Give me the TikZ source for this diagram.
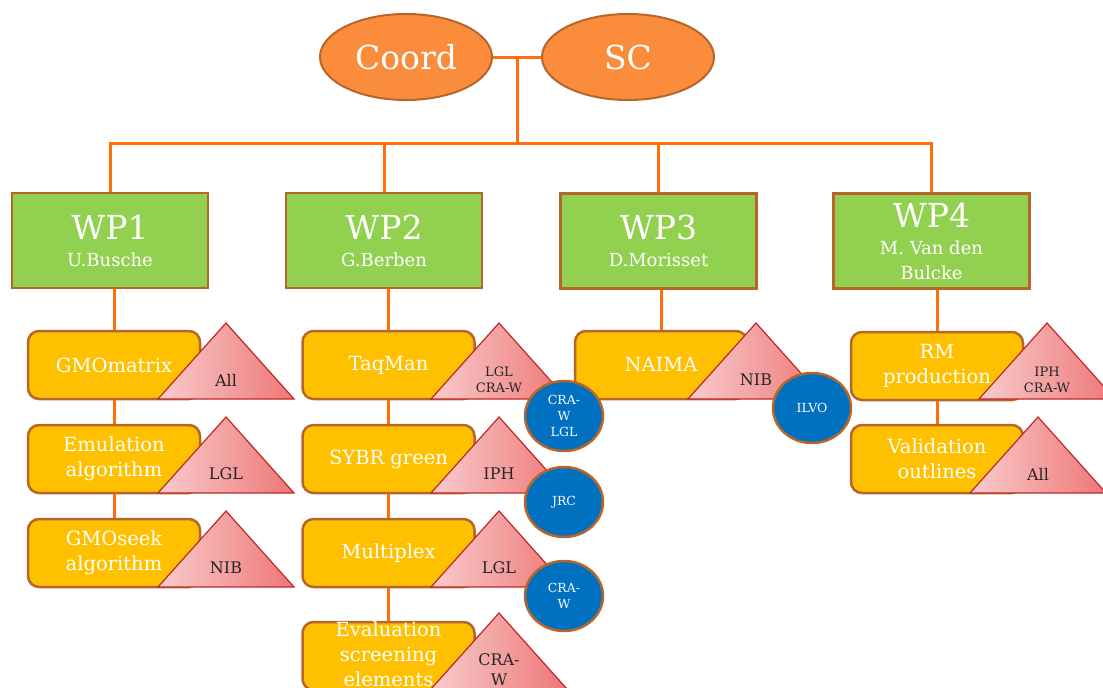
\documentclass[tikz,border=0pt]{standalone}
\usepackage{fontspec}
\setmainfont{DejaVu Serif}
\usetikzlibrary{shapes.geometric,positioning}
\definecolor{linkorange}{RGB}{255,110,10}
\definecolor{edgebrown}{RGB}{182,102,42}
\definecolor{headorange}{RGB}{250,140,60}
\definecolor{wpgreen}{RGB}{146,208,80}
\definecolor{taskgold}{RGB}{255,192,0}
\definecolor{partnerblue}{RGB}{0,112,192}
\definecolor{trilight}{RGB}{249,204,204}
\definecolor{tridark}{RGB}{238,118,118}
\definecolor{triedge}{RGB}{192,40,40}

\begin{document}
\begin{tikzpicture}[x=1pt,y=-1pt,
    link/.style={draw=linkorange, line width=3pt},
    head/.style={ellipse, draw=edgebrown, line width=2pt, fill=headorange, text=white,
        minimum width=172pt, minimum height=86pt, inner sep=0pt, font=\fontsize{33}{36}\selectfont},
    wpbox/.style={rectangle, draw=edgebrown, line width=2.5pt, fill=wpgreen, text=white, align=center,
        minimum width=196pt, minimum height=95pt, inner sep=0pt, font=\fontsize{18}{25}\selectfont},
    taskbox/.style={rectangle, rounded corners=11pt, draw=edgebrown, line width=2.5pt, fill=taskgold,
        text=white, align=center, minimum width=172pt, minimum height=68pt, inner sep=0pt,
        font=\fontsize{19.5}{25}\selectfont},
    partner/.style={ellipse, draw=edgebrown, line width=2.5pt, fill=partnerblue, text=white, align=center,
        minimum width=78pt, minimum height=70pt, inner sep=0pt, font=\fontsize{12.5}{16}\selectfont},
    tri/.style={draw=triedge, line width=1.2pt, left color=trilight, right color=tridark}]

    \useasboundingbox (0,0) rectangle (1103,688);
    \clip (0,0) rectangle (1103,688);

    \node[head] (coord) at (406,57) {Coord};
    \node[head] (sc) at (628,57) {SC};
    \coordinate (hub) at (517,57);
    \coordinate (bus) at (517,143);

    \node[wpbox] (wp1) at (110,240.5) {{\fontsize{33}{36}\selectfont WP1}\\[2pt]U.Busche};
    \node[wpbox] (wp2) at (384,240.5) {{\fontsize{33}{36}\selectfont WP2}\\[2pt]G.Berben};
    \node[wpbox] (wp3) at (658.5,241) {{\fontsize{33}{36}\selectfont WP3}\\[2pt]D.Morisset};
    \node[wpbox] (wp4) at (931.5,241) {{\fontsize{33}{36}\selectfont WP4}\\[2pt]M. Van den\\Bulcke};

    \draw[link] (coord) -- (sc);
    \draw[link] (hub) -- (bus);
    \draw[link] (wp1.north) |- (bus) -| (wp4.north);
    \draw[link] (wp2.north) -- (wp2.north |- bus);
    \draw[link] (wp3.north) -- (wp3.north |- bus);

    \node[taskbox] (t11) at (114,365) {GMOmatrix};
    \node[taskbox] (t12) at (114,459) {Emulation\\algorithm};
    \node[taskbox] (t13) at (114,553) {GMOseek\\algorithm};
    \node[taskbox] (t21) at (388.5,365) {TaqMan};
    \node[taskbox] (t22) at (388.5,459) {SYBR green};
    \node[taskbox] (t23) at (388.5,553) {Multiplex};
    \node[taskbox] (t24) at (388.5,656) {\smash{\raisebox{-6pt}{\begin{tabular}{@{}c@{}}Evaluation\\screening\\elements\end{tabular}}}};
    \node[taskbox] (t31) at (661,365) {NAIMA};
    \node[taskbox] (t41) at (937,366) {RM\\production};
    \node[taskbox] (t42) at (937,459) {Validation\\outlines};

    \draw[link] (wp1.south -| t11.north) -- (t11.north);
    \draw[link] (t11) -- (t12);
    \draw[link] (t12) -- (t13);
    \draw[link] (wp2.south -| t21.north) -- (t21.north);
    \draw[link] (t21) -- (t22);
    \draw[link] (t22) -- (t23);
    \draw[link] (t23) -- (t24);
    \draw[link] (wp3.south -| t31.north) -- (t31.north);
    \draw[link] (wp4.south -| t41.north) -- (t41.north);
    \draw[link] (t41) -- (t42);

    \foreach \ax/\ay/\fs/\ls/\who [count=\i] in {226/323/16/20/All, 226/417/16/20/LGL, 226/511/16/20/NIB,
        499/323/13/16/{LGL\\CRA-W}, 499/417/16/20/IPH, 499/511/16/20/LGL, 499/613/16/20/{CRA-\\W},
        756/323/16/20/NIB, 1047/323/13/16/{IPH\\CRA-W}, 1038/417/16/20/All}
    {
        \draw[tri] ({\ax-68},{\ay+76}) -- (\ax,\ay) -- ({\ax+68},{\ay+76}) -- cycle;
        \node[text=black!85, align=center, font=\fontsize{\fs}{\ls}\selectfont] (tag\i) at (\ax,{\ay+57}) {\who};
    }

    \node[partner] (p1) at (564,416) {CRA-\\W\\LGL};
    \node[partner] (p2) at (564,502) {JRC};
    \node[partner] (p3) at (564,596) {CRA-\\W};
    \node[partner] (p4) at (812,408) {ILVO};
\end{tikzpicture}
\end{document}
